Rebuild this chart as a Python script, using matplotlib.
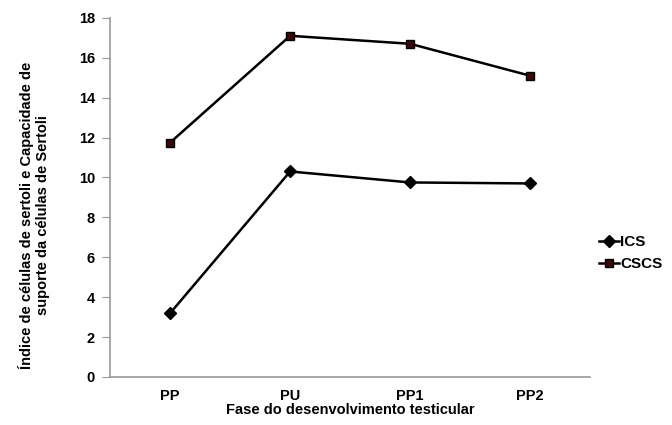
import numpy as np
import matplotlib.pyplot as plt

plt.rcParams['font.family'] = ['Liberation Sans', 'DejaVu Sans']
plt.rcParams['font.weight'] = 'bold'

# data
fases = ['PP', 'PU', 'PP1', 'PP2']
ics = [3.2, 10.3, 9.75, 9.7]
cscs = [11.75, 17.1, 16.7, 15.1]

fig = plt.figure(figsize=(6.72, 4.25), dpi=100)
ax = fig.add_axes([0.164, 0.113, 0.714, 0.845])

x = np.arange(len(fases))
ax.plot(x, ics, color='black', lw=1.8, marker='D', ms=6, label='ICS')
ax.plot(x, cscs, color='black', lw=1.8, marker='s', ms=5.5,
        markerfacecolor='#3a0a0a', label='CSCS')

ax.set_xlim(-0.5, 3.5)
ax.set_ylim(0, 18)
ax.set_yticks(range(0, 19, 2))
ax.set_xticks(x)
ax.set_xticklabels(fases)

for s in ['top', 'right']:
    ax.spines[s].set_visible(False)
for s in ['left', 'bottom']:
    ax.spines[s].set_color('#999999')
    ax.spines[s].set_linewidth(1.2)
ax.tick_params(axis='y', length=6, color='#999999', labelsize=10.5, pad=5)
ax.tick_params(axis='x', length=0, labelsize=10.5, pad=9)

ax.set_xlabel('Fase do desenvolvimento testicular', fontsize=10.5,
              fontweight='bold', labelpad=0)
ax.set_ylabel('Índice de células de sertoli e Capacidade de\nsuporte da células de Sertoli',
              fontsize=10.5, fontweight='bold')
ax.yaxis.set_label_coords(-0.125, 0.45)

ax.legend(loc='center left', bbox_to_anchor=(0.99, 0.345), frameon=False,
          fontsize=11, handlelength=1.3, handletextpad=0.1, labelspacing=0.5)

fig.savefig('out.png', dpi=100)
